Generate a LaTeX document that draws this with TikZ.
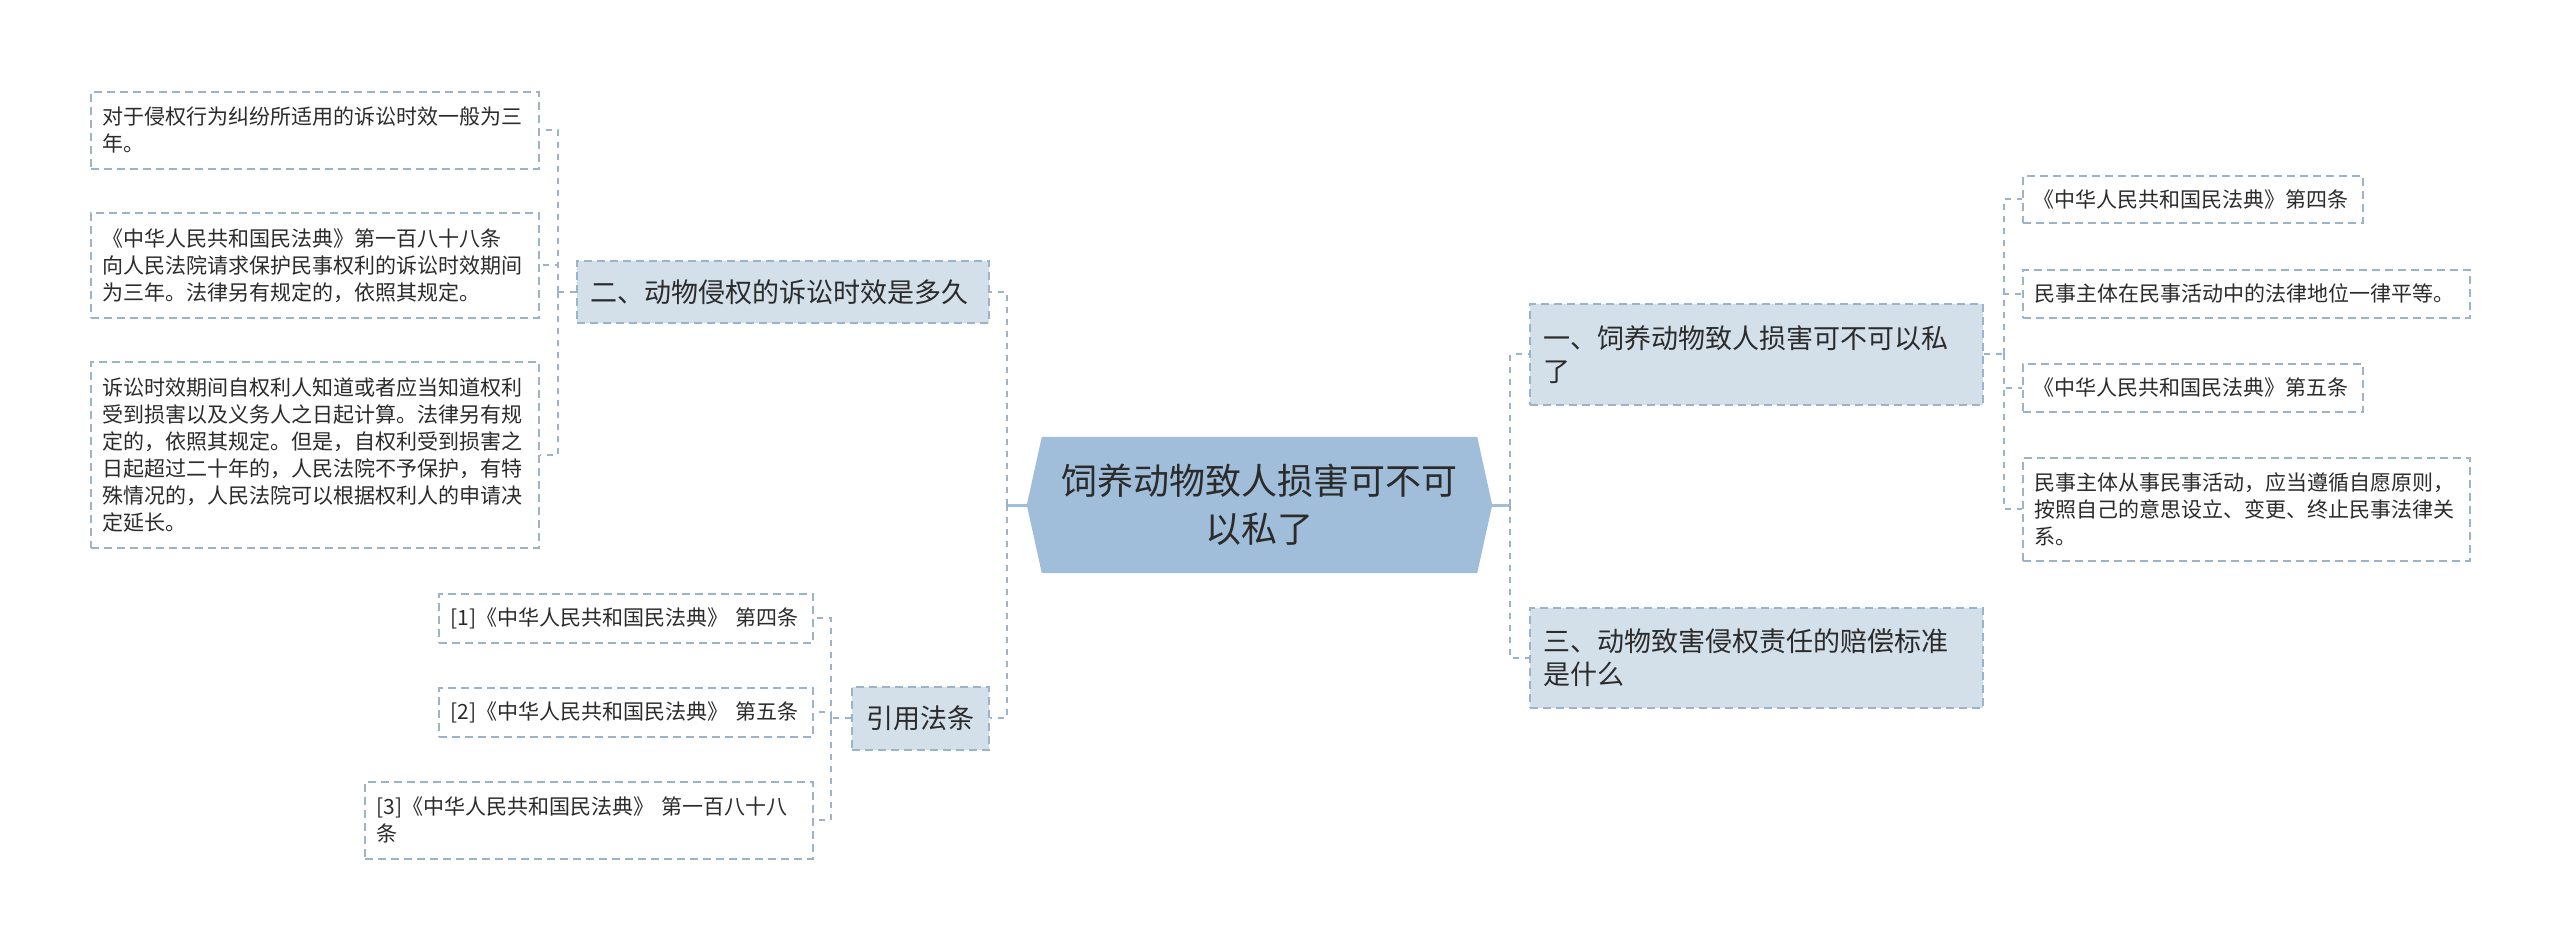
\documentclass[tikz,border=0pt]{standalone}
\usepackage{fontspec}
\setmainfont{Noto Sans CJK SC}
\usetikzlibrary{backgrounds}
\definecolor{txt}{HTML}{2B2B2B}
\definecolor{bord}{HTML}{9DB3C8}
\definecolor{hub}{HTML}{A0BEDA}
\definecolor{brfill}{HTML}{D3DFE9}
\begin{document}
\begin{tikzpicture}[x=1pt,y=-1pt,
  box/.style={draw=bord, line width=1.6pt, dash pattern=on 8pt off 5pt, anchor=north west,
    inner xsep=12pt, inner ysep=0pt, text=txt, align=left},
  leaf/.style={box, fill=white, font=\fontsize{21}{27}\selectfont},
  branch/.style={box, fill=brfill, font=\fontsize{27}{33}\selectfont, inner xsep=14pt},
  conn/.style={draw=bord, line width=2pt, dash pattern=on 6pt off 6pt},
  stub/.style={draw=hub, line width=3pt}]
\useasboundingbox (0,0) rectangle (2560,949);

% center
\node[anchor=center, minimum width=465pt, minimum height=136pt, text width=440pt, align=center,
  inner sep=0pt, text=txt, font=\fontsize{36}{48}\selectfont] (c) at (1259.5,505)
  {饲养动物致人损害可不可\\以私了};
\begin{scope}[on background layer]
\fill[hub] (c.west) -- ([xshift=15pt]c.north west) -- ([xshift=-15pt]c.north east) -- (c.east)
  -- ([xshift=-15pt]c.south east) -- ([xshift=15pt]c.south west) -- cycle;
\end{scope}

% left branches
\node[branch, text width=384pt, minimum height=62pt] (b2) at (576,260) {二、动物侵权的诉讼时效是多久};
\node[branch, text width=109pt, minimum height=63pt, align=center] (bref) at (851,686) {引用法条};

\node[leaf, text width=424pt, minimum height=77pt] (L1) at (90,91)
  {对于侵权行为纠纷所适用的诉讼时效一般为三\\年。};
\node[leaf, text width=424pt, minimum height=105pt] (L2) at (90,212)
  {《中华人民共和国民法典》第一百八十八条\\向人民法院请求保护民事权利的诉讼时效期间\\为三年。法律另有规定的，依照其规定。};
\node[leaf, text width=424pt, minimum height=186pt] (L3) at (90,361)
  {诉讼时效期间自权利人知道或者应当知道权利\\受到损害以及义务人之日起计算。法律另有规\\定的，依照其规定。但是，自权利受到损害之\\日起超过二十年的，人民法院不予保护，有特\\殊情况的，人民法院可以根据权利人的申请决\\定延长。};

\node[leaf, text width=350pt, minimum height=49pt] (C1) at (438,593) {[1]《中华人民共和国民法典》 第四条};
\node[leaf, text width=350pt, minimum height=49pt] (C2) at (438,687) {[2]《中华人民共和国民法典》 第五条};
\node[leaf, text width=424pt, minimum height=77pt] (C3) at (364,781) {[3]《中华人民共和国民法典》 第一百八十八\\条};

% right branches
\node[branch, text width=425pt, minimum height=101pt] (b1) at (1529,303) {一、饲养动物致人损害可不可以私\\了};
\node[branch, text width=425pt, minimum height=100pt] (b3) at (1529,607) {三、动物致害侵权责任的赔偿标准\\是什么};

\node[leaf, text width=318pt, inner xsep=11pt, minimum height=47pt] (R1) at (2022,175) {《中华人民共和国民法典》第四条};
\node[leaf, text width=423pt, minimum height=48pt] (R2) at (2022,269) {民事主体在民事活动中的法律地位一律平等。};
\node[leaf, text width=318pt, inner xsep=11pt, minimum height=48pt] (R3) at (2022,363) {《中华人民共和国民法典》第五条};
\node[leaf, text width=423pt, minimum height=103pt] (R4) at (2022,457)
  {民事主体从事民事活动，应当遵循自愿原则，\\按照自己的意思设立、变更、终止民事法律关\\系。};

% connectors
\draw[stub] (c.west) -- ++(-20,0) coordinate (jl);
\draw[conn] (jl) |- (b2.east);
\draw[conn] (jl) |- (bref.east);

\draw[conn] (b2.west) -- ++(-18,0) coordinate (j2);
\draw[conn] (j2) |- (L1.east);
\draw[conn] (j2) |- (L2.east);
\draw[conn] (j2) |- (L3.east);

\draw[conn] (bref.west) -- ++(-20,0) coordinate (j3);
\draw[conn] (j3) |- (C1.east);
\draw[conn] (j3) |- (C2.east);
\draw[conn] (j3) |- (C3.east);

\draw[stub] (c.east) -- ++(18,0) coordinate (jr);
\draw[conn] (jr) |- (b1.west);
\draw[conn] (jr) |- (b3.west);

\draw[conn] (b1.east) -- ++(20,0) coordinate (j4);
\draw[conn] (j4) |- (R1.west);
\draw[conn] (j4) |- (R2.west);
\draw[conn] (j4) |- (R3.west);
\draw[conn] (j4) |- (R4.west);
\end{tikzpicture}
\end{document}
